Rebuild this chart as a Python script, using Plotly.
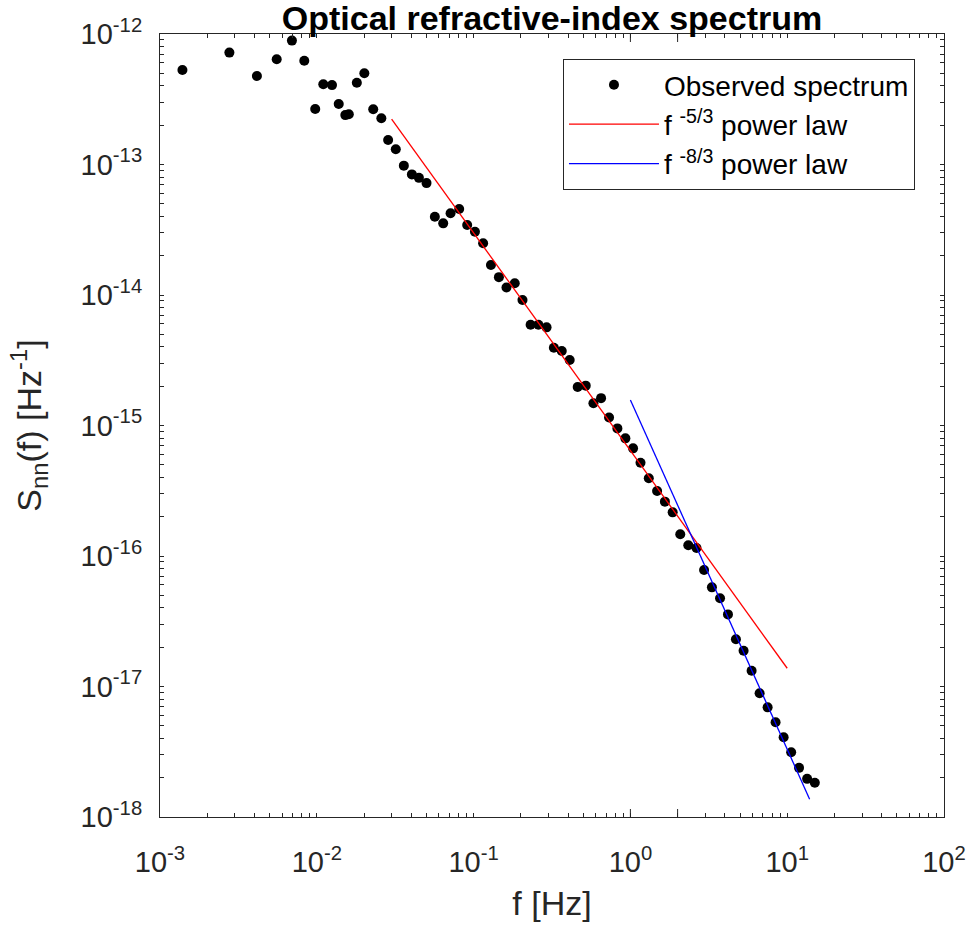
import plotly.graph_objects as go

# Observed spectrum
freq_hz = [0.00139, 0.00277, 0.00415, 0.00555, 0.00694, 0.00832, 0.00977, 0.0110, 0.0125,
           0.0138, 0.0152, 0.0160, 0.0180, 0.0201, 0.0229, 0.0258, 0.0285, 0.0319, 0.0359,
           0.0404, 0.0448, 0.0501, 0.0566, 0.0640, 0.0713, 0.0809, 0.0910, 0.102, 0.115,
           0.129, 0.145, 0.162, 0.183, 0.205, 0.231, 0.259, 0.292, 0.325, 0.365, 0.410,
           0.461, 0.519, 0.581, 0.650, 0.731, 0.826, 0.929, 1.04, 1.16, 1.31, 1.48, 1.66,
           1.86, 2.08, 2.34, 2.64, 2.95, 3.31, 3.73, 4.19, 4.71, 5.27, 5.93, 6.67, 7.50,
           8.43, 9.49, 10.6, 11.9, 13.4, 15.0]
spectrum = [5.3e-13, 7.2e-13, 4.77e-13, 6.4e-13, 8.9e-13, 6.24e-13, 2.66e-13, 4.12e-13, 4.06e-13,
            2.91e-13, 2.39e-13, 2.43e-13, 4.23e-13, 5.0e-13, 2.65e-13, 2.26e-13, 1.54e-13, 1.31e-13,
            9.8e-14, 8.4e-14, 7.9e-14, 7.2e-14, 3.98e-14, 3.54e-14, 4.23e-14, 4.56e-14, 3.44e-14,
            3.05e-14, 2.49e-14, 1.70e-14, 1.37e-14, 1.14e-14, 1.23e-14, 9.16e-15, 5.92e-15,
            5.92e-15, 5.65e-15, 3.94e-15, 3.72e-15, 3.18e-15, 1.97e-15, 2.02e-15, 1.48e-15,
            1.62e-15, 1.15e-15, 9.5e-16, 7.97e-16, 6.68e-16, 5.19e-16, 3.94e-16, 3.15e-16,
            2.61e-16, 2.16e-16, 1.47e-16, 1.21e-16, 1.15e-16, 7.81e-17, 5.75e-17, 4.74e-17,
            3.57e-17, 2.30e-17, 1.88e-17, 1.32e-17, 8.87e-18, 6.92e-18, 5.32e-18, 4.08e-18,
            3.13e-18, 2.38e-18, 1.96e-18, 1.83e-18]

# Power-law reference lines (end points)
red_f = [0.03, 10.0]
red_s = [2.23e-13, 1.38e-17]
blue_f = [1.0, 13.9]
blue_s = [1.57e-15, 1.37e-18]

x_decades = [-3, -2, -1, 0, 1, 2]
y_decades = [-18, -17, -16, -15, -14, -13, -12]
mantissas = [1, 2, 3, 4, 5, 6, 7, 8, 9]


def log_ticks(decades):
    vals, text = [], []
    for d in decades:
        for m in (mantissas if d != decades[-1] else [1]):
            vals.append(m * 10.0 ** d)
            text.append("10<sup>%d</sup>" % d if m == 1 else "")
    return vals, text


x_tickvals, x_ticktext = log_ticks(x_decades)
y_tickvals, y_ticktext = log_ticks(y_decades)

FONT = "Liberation Sans, Arial, Helvetica, sans-serif"
AX = "#262626"
W, H = 972, 926
ML, MR, MT, MB = 160, 28, 34, 109
PW, PH = W - ML - MR, H - MT - MB
MAJOR_LEN = 8

fig = go.Figure()
fig.add_trace(go.Scatter(x=freq_hz, y=spectrum, mode="markers", name="Observed spectrum",
                         marker=dict(color="black", size=10), legendgroup="a"))
fig.add_trace(go.Scatter(x=red_f, y=red_s, mode="lines", name="f <sup>-5/3</sup> power law",
                         line=dict(color="red", width=1.3), legendgroup="b"))
fig.add_trace(go.Scatter(x=blue_f, y=blue_s, mode="lines", name="f <sup>-8/3</sup> power law",
                         line=dict(color="blue", width=1.3), legendgroup="c"))

axis_common = dict(type="log", showgrid=False, zeroline=False, showline=True, linecolor=AX,
                   linewidth=1, mirror="ticks", ticks="inside", ticklen=4, tickcolor=AX,
                   tickwidth=1, tickfont=dict(family=FONT, size=29, color=AX), tickmode="array")

fig.update_xaxes(**axis_common, range=[-3, 2], tickvals=x_tickvals, ticktext=x_ticktext,
                 ticklabelstandoff=19,
                 title=dict(text="f [Hz]", font=dict(family=FONT, size=34, color=AX), standoff=14))
fig.update_yaxes(**axis_common, range=[-18, -12], tickvals=y_tickvals, ticktext=y_ticktext,
                 ticklabelstandoff=11,
                 title=dict(text="S<sub>nn</sub>(f) [Hz<sup>-1</sup>]",
                            font=dict(family=FONT, size=34, color=AX), standoff=28))

# longer major (decade) ticks on all four sides
tick_line = dict(color=AX, width=1)
fx = MAJOR_LEN / PH
fy = MAJOR_LEN / PW
for d in x_decades:
    fig.add_shape(type="line", xref="x", yref="y domain", x0=d, x1=d, y0=0, y1=fx, line=tick_line)
    fig.add_shape(type="line", xref="x", yref="y domain", x0=d, x1=d, y0=1, y1=1 - fx, line=tick_line)
for d in y_decades:
    fig.add_shape(type="line", xref="x domain", yref="y", y0=d, y1=d, x0=0, x1=fy, line=tick_line)
    fig.add_shape(type="line", xref="x domain", yref="y", y0=d, y1=d, x0=1, x1=1 - fy, line=tick_line)

fig.update_layout(
    width=W, height=H,
    margin=dict(l=ML, r=MR, t=MT, b=MB, autoexpand=False),
    paper_bgcolor="white", plot_bgcolor="white",
    title=dict(text="<b>Optical refractive-index spectrum</b>", x=0.5, xref="paper",
               y=0.9805, yref="container", yanchor="middle",
               font=dict(family=FONT, size=34, color="black")),
    legend=dict(x=0.514, y=0.968, xanchor="left", yanchor="top", bgcolor="white",
                bordercolor=AX, borderwidth=1, font=dict(family=FONT, size=28, color="black"),
                itemwidth=90, tracegroupgap=0),
    showlegend=True,
)

fig.write_html("out.html", config={"displayModeBar": False},
               post_script="document.body.style.margin='0px';")
